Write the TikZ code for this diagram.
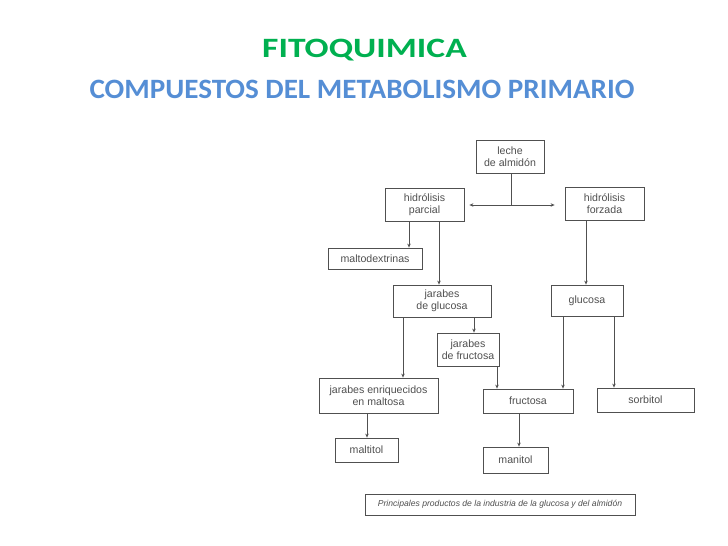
\documentclass[tikz,border=0pt]{standalone}
\usepackage{graphicx}
\usepackage{fontspec}
\setmainfont{Liberation Sans}
\newfontfamily\titlefont{Carlito}
\usetikzlibrary{arrows.meta}
\definecolor{titlegreen}{HTML}{00B050}
\definecolor{titleblue}{HTML}{558ED5}
\definecolor{inkgray}{HTML}{505050}
\begin{document}
\begin{tikzpicture}[x=1pt,y=-1pt,
  box/.style={draw=inkgray,line width=0.8pt,rectangle,inner sep=0pt,align=center,
    text=inkgray,font=\fontsize{10.6}{12}\selectfont},
  arr/.style={draw=inkgray,line width=0.8pt,-{Stealth[length=4pt,width=3.5pt]}},
  ttl/.style={anchor=base,font=\titlefont\bfseries\fontsize{28}{30}\selectfont}]
\useasboundingbox[fill=white] (0,0) rectangle (728,546);
% titles
\node[ttl,text=titlegreen] (t1) at (364.5,57) {\scalebox{1.27}[1]{FITOQUIMICA}};
\node[ttl,text=titleblue] (t2) at (362,98) {\scalebox{1.04}[1]{COMPUESTOS DEL METABOLISMO PRIMARIO}};
% boxes
\node[box,minimum width=68,minimum height=33] (leche) at (510,156.5) {leche\\de almidón};
\node[box,minimum width=79,minimum height=33] (hparcial) at (424.5,204.5) {hidrólisis\\parcial};
\node[box,minimum width=79,minimum height=33] (hforzada) at (604.5,203.5) {hidrólisis\\forzada};
\node[box,minimum width=94,minimum height=21] (malto) at (375,258.5) {maltodextrinas};
\node[box,minimum width=98,minimum height=32] (jglucosa) at (442,301) {jarabes\\de glucosa};
\node[box,minimum width=62,minimum height=33] (jfructosa) at (468,349.5) {jarabes\\de fructosa};
\node[box,minimum width=119,minimum height=35] (jenriq) at (378.5,395.5) {jarabes enriquecidos\\en maltosa};
\node[box,minimum width=72,minimum height=31] (glucosa) at (587,300.5) {glucosa};
\node[box,minimum width=90,minimum height=24] (fructosa) at (528,401) {fructosa};
\node[box,minimum width=97,minimum height=24] (sorbitol) at (645.5,400) {sorbitol};
\node[box,minimum width=63,minimum height=24] (maltitol) at (366.5,450) {maltitol};
\node[box,minimum width=65,minimum height=26] (manitol) at (515.5,460) {manitol};
\node[box,minimum width=270,minimum height=21,font=\itshape\fontsize{8.6}{10}\selectfont] (caption) at (500,504.5)
  {Principales productos de la industria de la glucosa y del almidón};
% junction below leche
\coordinate (c0) at (511,0);
\coordinate (j) at (511,205);
\draw[draw=inkgray,line width=0.8pt] (c0 |- leche.south) -- (j);
\draw[arr,shorten >=5pt] (j) -- (j -| hparcial.east);
\draw[arr,shorten >=10pt] (j) -- (j -| hforzada.west);
% vertical connectors
\coordinate (c1) at (409,0);
\coordinate (c2) at (439,0);
\coordinate (c3) at (586,0);
\coordinate (c4) at (474,0);
\coordinate (c5) at (403,0);
\coordinate (c6) at (563,0);
\coordinate (c7) at (614,0);
\coordinate (c8) at (497,0);
\coordinate (c9) at (367,0);
\coordinate (c10) at (519,0);
\draw[arr] (c1 |- hparcial.south) -- (c1 |- malto.north);
\draw[arr] (c2 |- hparcial.south) -- (c2 |- jglucosa.north);
\draw[arr] (c3 |- hforzada.south) -- (c3 |- glucosa.north);
\draw[arr] (c4 |- jglucosa.south) -- (c4 |- jfructosa.north);
\draw[arr] (c5 |- jglucosa.south) -- (c5 |- jenriq.north);
\draw[arr] (c6 |- glucosa.south) -- (c6 |- fructosa.north);
\draw[arr] (c7 |- glucosa.south) -- (c7 |- sorbitol.north);
\draw[arr] (c8 |- jfructosa.south) -- (c8 |- fructosa.north);
\draw[arr] (c9 |- jenriq.south) -- (c9 |- maltitol.north);
\draw[arr] (c10 |- fructosa.south) -- (c10 |- manitol.north);
\end{tikzpicture}
\end{document}
